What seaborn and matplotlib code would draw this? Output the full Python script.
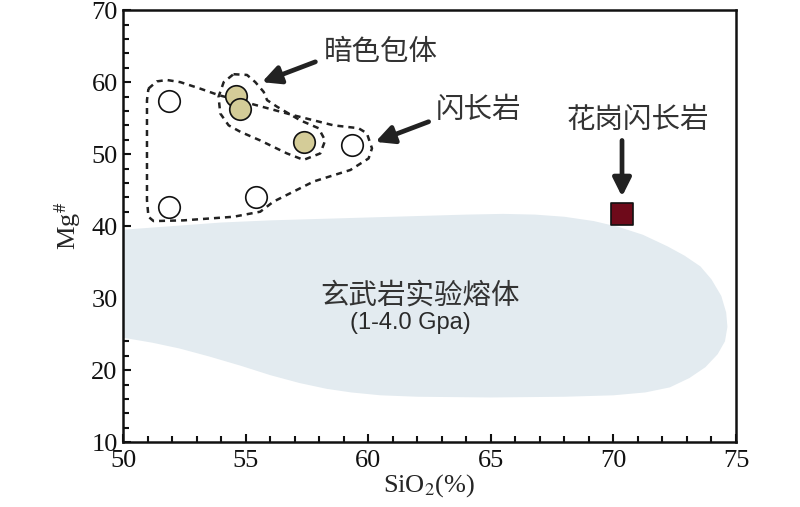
import numpy as np
import pandas as pd
import matplotlib
matplotlib.use("Agg")
import matplotlib.pyplot as plt
from matplotlib.ticker import MultipleLocator
import seaborn as sns

# sample data: SiO2 vs Mg#
diorite_sio2 = [51.85, 51.85, 55.4, 59.35]
diorite_mg = [57.4, 42.6, 44.1, 51.2]
enclave_sio2 = [54.6, 54.75, 57.36]
enclave_mg = [58.1, 56.2, 51.7]
granodiorite_sio2 = [70.35]
granodiorite_mg = [41.7]

# experimental basalt melt field (outline)
melt_x = [50, 52, 54, 56, 58, 60, 62, 64, 65.5, 66.8, 68, 69.2, 70.2, 71.2, 72.2, 72.9,
          73.55, 74.0, 74.4, 74.6, 74.65, 74.55, 74.25, 73.75, 73.1, 72.3, 71.3, 70, 68,
          65, 62, 60.5, 59.3, 58.3, 57.2, 56, 54.8, 53.5, 52.3, 51.2, 50]
melt_y = [39.5, 40.0, 40.5, 40.8, 41.0, 41.2, 41.4, 41.6, 41.7, 41.6, 41.3, 40.7, 39.9,
          38.8, 37.2, 35.9, 34.4, 32.6, 30.3, 28.0, 26.0, 24.0, 22.2, 20.4, 18.9, 17.6,
          16.9, 16.5, 16.3, 16.2, 16.3, 16.5, 16.9, 17.4, 18.2, 19.3, 20.6, 21.9, 23.0,
          23.8, 24.5]

# dashed outlines around the groups
outer_x = [51.03, 51.37, 51.78, 52.33, 53.14, 53.89, 55.32, 56.95, 58.58, 59.6, 59.94, 60.15,
           60.01, 59.27, 57.77, 56.13, 55.59, 54.5, 52.46, 51.24, 51.03, 50.97, 50.97, 51.03]
outer_y = [59.1, 60.1, 60.3, 60.0, 59.1, 58.2, 56.9, 55.4, 54.0, 53.6, 52.9, 50.8,
           49.4, 47.8, 46.2, 43.4, 42.0, 41.3, 40.8, 40.7, 41.3, 43.6, 57.5, 59.1]
encl_x = [54.5, 55.05, 55.39, 55.73, 55.87, 56.27, 57.22, 57.97, 58.24, 58.04, 57.36,
          56.68, 55.59, 54.78, 54.3, 53.96, 53.89, 54.1, 54.5]
encl_y = [61.1, 61.0, 60.0, 58.65, 57.5, 56.6, 54.7, 53.6, 51.9, 50.1, 49.2,
          50.1, 51.9, 53.1, 54.0, 55.65, 57.96, 60.0, 61.1]

sns.set_style("ticks")
plt.rcParams['font.family'] = ['Liberation Serif', 'Noto Sans CJK SC']
plt.rcParams['mathtext.fontset'] = 'stix'

fig = plt.figure(figsize=(8, 5.07), dpi=100)
ax = fig.add_axes([0.154, 0.128, 0.766, 0.852])

ax.fill(melt_x, melt_y, color='#e3ebf0', lw=0, zorder=1)
dash = (0, (2.4, 2.0))
ax.plot(outer_x, outer_y, color='#222222', lw=1.8, linestyle=dash, zorder=2)
ax.plot(encl_x, encl_y, color='#222222', lw=1.8, linestyle=dash, zorder=2)

df_d = pd.DataFrame({'SiO2': diorite_sio2, 'Mg': diorite_mg})
df_e = pd.DataFrame({'SiO2': enclave_sio2, 'Mg': enclave_mg})
df_g = pd.DataFrame({'SiO2': granodiorite_sio2, 'Mg': granodiorite_mg})
sns.scatterplot(data=df_d, x='SiO2', y='Mg', ax=ax, s=240, color='white',
                edgecolor='#111111', linewidth=1.2, zorder=3)
sns.scatterplot(data=df_e, x='SiO2', y='Mg', ax=ax, s=240, color='#d4cc98',
                edgecolor='#111111', linewidth=1.2, zorder=4)
sns.scatterplot(data=df_g, x='SiO2', y='Mg', ax=ax, s=260, marker='s', color='#6e0a1a',
                edgecolor='#111111', linewidth=1.2, zorder=4)

arrow = dict(arrowstyle='-|>,head_length=1.1,head_width=0.55', lw=3.4, color='#222222',
             shrinkA=0, shrinkB=0)
ax.annotate('', xy=(55.66, 60.0), xytext=(57.84, 62.82), arrowprops=arrow, zorder=5)
ax.annotate('', xy=(60.29, 51.7), xytext=(62.46, 54.5), arrowprops=arrow, zorder=5)
ax.annotate('', xy=(70.35, 44.1), xytext=(70.35, 51.9), arrowprops=arrow, zorder=5)

cjk = dict(family=['Noto Sans CJK SC', 'DejaVu Sans'], fontsize=20.5, color='#333333',
           ha='center', va='center', fontweight='light')
ax.text(60.5, 64.2, '暗色包体', **cjk)
ax.text(64.5, 56.1, '闪长岩', **cjk)
ax.text(71.0, 54.7, '花岗闪长岩', **cjk)
ax.text(62.1, 30.4, '玄武岩实验熔体', **cjk)
ax.text(61.7, 26.6, '(1-4.0 Gpa)', family=['Liberation Sans'], fontsize=17,
        color='#2a2a2a', ha='center', va='center')

ax.set_xlim(50, 75)
ax.set_ylim(10, 70)
ax.xaxis.set_major_locator(MultipleLocator(5))
ax.xaxis.set_minor_locator(MultipleLocator(1))
ax.yaxis.set_major_locator(MultipleLocator(10))
ax.yaxis.set_minor_locator(MultipleLocator(2))
ax.tick_params(which='both', direction='in', width=1.5, labelsize=19, colors='#111111')
ax.tick_params(axis='x', pad=6)
ax.tick_params(axis='y', pad=4)
ax.tick_params(which='major', length=6)
ax.tick_params(which='minor', length=4.5)
for sp in ax.spines.values():
    sp.set_linewidth(1.8)
    sp.set_color('#111111')

ax.set_xlabel('SiO$_2$(%)', fontsize=19, labelpad=0)
ax.set_ylabel('Mg$^{\\#}$', fontsize=19, labelpad=6)

fig.savefig('out.png', dpi=100)
